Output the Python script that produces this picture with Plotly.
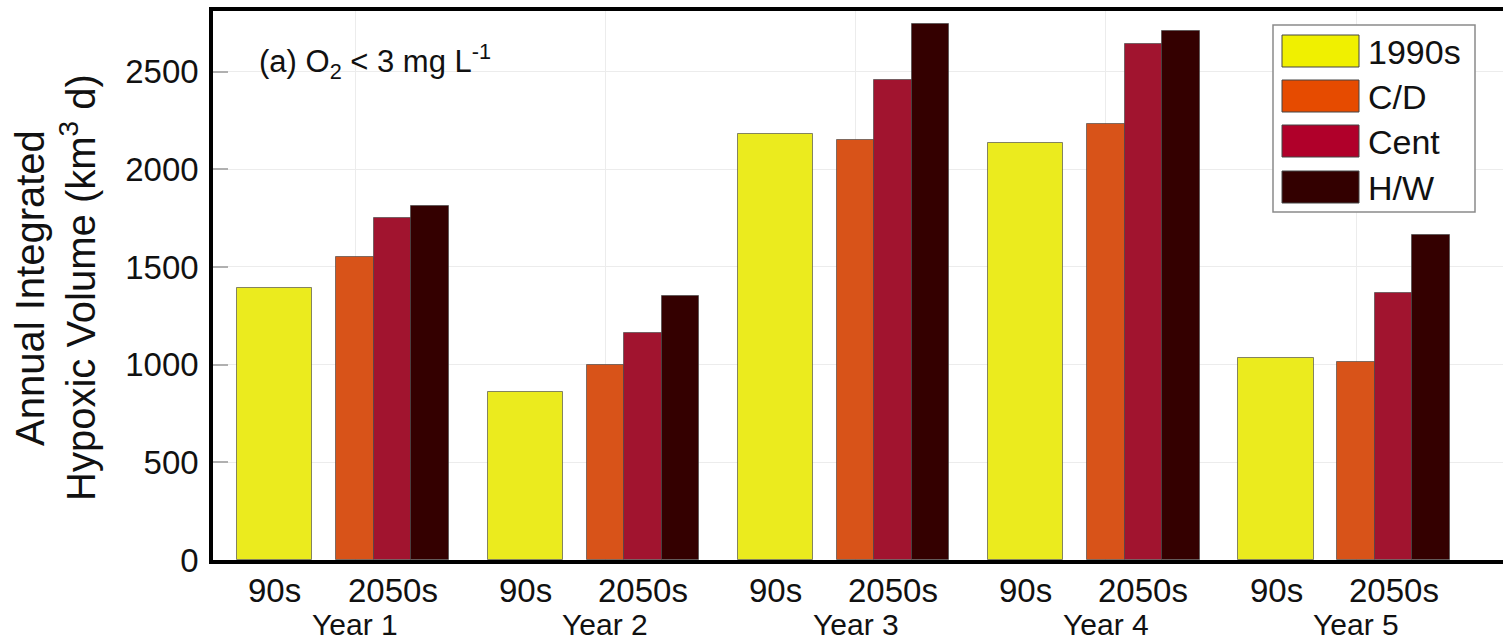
import plotly.graph_objects as go

# Annual integrated hypoxic volume (km^3 d), O2 < 3 mg/L
years = ["Year 1", "Year 2", "Year 3", "Year 4", "Year 5"]
period_labels = ["90s", "2050s"]
series_names = ["1990s", "C/D", "Cent", "H/W"]

v_1990s = [1394, 862, 2180, 2132, 1036]
v_cd = [1553, 998, 2152, 2232, 1014]
v_cent = [1748, 1161, 2458, 2640, 1369]
v_hw = [1814, 1352, 2744, 2710, 1664]

bar_colors = ["#EBEB1E", "#D85319", "#A1142F", "#340000"]
key_colors = ["#F0F000", "#E64B00", "#B0002A", "#330000"]

y_ticks = [0, 500, 1000, 1500, 2000, 2500]

FONT = "Liberation Sans, Arial, Helvetica, sans-serif"

# plot-area geometry in pixels (for annotations/legend placement)
W, H = 1503, 642
L, R, T, B = 213, 1503, 11, 560
PW, PH = R - L, B - T


def px(x):
    return (x - L) / PW


def py(y):
    return (B - y) / PH


centers = list(range(1, len(years) + 1))
offsets = [-0.32, 0.0, 0.15, 0.30]
widths = [0.30, 0.15, 0.15, 0.15]
values = [v_1990s, v_cd, v_cent, v_hw]

fig = go.Figure()
for name, vals, col, off, w in zip(series_names, values, bar_colors, offsets, widths):
    fig.add_trace(go.Bar(
        x=[c + off for c in centers],
        y=vals,
        width=w,
        name=name,
        marker=dict(color=col, line=dict(color="rgba(70,70,70,0.65)", width=1)),
        showlegend=False,
        hovertemplate=name + ": %{y}<extra></extra>",
    ))

annotations = []
# period labels under each group and year labels below them
for c in centers:
    annotations.append(dict(x=c - 0.32, y=py(590), xref="x", yref="paper",
                            text=period_labels[0], showarrow=False,
                            font=dict(size=33, color="#111", family=FONT),
                            xanchor="center", yanchor="middle"))
    annotations.append(dict(x=c + 0.15, y=py(590), xref="x", yref="paper",
                            text=period_labels[1], showarrow=False,
                            font=dict(size=33, color="#111", family=FONT),
                            xanchor="center", yanchor="middle"))
for c, yl in zip(centers, years):
    annotations.append(dict(x=c, y=py(624), xref="x", yref="paper",
                            text=yl, showarrow=False,
                            font=dict(size=30, color="#111", family=FONT),
                            xanchor="center", yanchor="middle"))

# y-axis title (two lines)
annotations.append(dict(x=px(30), y=py(288), xref="paper", yref="paper",
                        text="Annual Integrated", textangle=-90, showarrow=False,
                        font=dict(size=40, color="#111", family=FONT),
                        xanchor="center", yanchor="middle"))
annotations.append(dict(x=px(78), y=py(288), xref="paper", yref="paper",
                        text="Hypoxic Volume (km<sup>3</sup> d)", textangle=-90,
                        showarrow=False,
                        font=dict(size=40, color="#111", family=FONT),
                        xanchor="center", yanchor="middle"))

# panel label
annotations.append(dict(x=px(257), y=py(62), xref="paper", yref="paper",
                        text="(a) O<sub>2</sub> &lt; 3 mg L<sup>-1</sup>",
                        showarrow=False,
                        font=dict(size=31, color="#111", family=FONT),
                        xanchor="left", yanchor="middle"))

# legend box
shapes = [dict(type="rect", xref="paper", yref="paper",
               x0=px(1273), x1=px(1475), y0=py(212), y1=py(25),
               line=dict(color="#8a8a8a", width=1.5), fillcolor="white", layer="above")]
row_tops = [35, 80, 125, 171]
for name, col, top in zip(series_names, key_colors, row_tops):
    shapes.append(dict(type="rect", xref="paper", yref="paper",
                       x0=px(1282), x1=px(1359), y0=py(top + 32), y1=py(top),
                       line=dict(color="#444", width=1), fillcolor=col, layer="above"))
    annotations.append(dict(x=px(1366), y=py(top + 17), xref="paper", yref="paper",
                            text=name, showarrow=False,
                            font=dict(size=34, color="#111", family=FONT),
                            xanchor="left", yanchor="middle"))

fig.update_layout(
    width=W, height=H,
    margin=dict(l=L, r=W - R, t=T, b=H - B),
    paper_bgcolor="white", plot_bgcolor="white",
    barmode="overlay", bargap=0,
    font=dict(family=FONT, color="#111"),
    annotations=annotations, shapes=shapes,
    xaxis=dict(range=[0.4326, 5.587], tickvals=centers, showticklabels=False,
               showgrid=True, gridcolor="#ececec", gridwidth=1.2,
               showline=True, linecolor="black", linewidth=3.5, mirror=True,
               ticks="", zeroline=False, fixedrange=True),
    yaxis=dict(range=[0, 2810], tickvals=y_ticks, ticktext=[str(t) for t in y_ticks],
               showgrid=True, gridcolor="#ececec", gridwidth=1.2,
               showline=True, linecolor="black", linewidth=3.5, mirror=False,
               ticks="inside", ticklen=15, tickwidth=1.5, tickcolor="#b0b0b0",
               tickfont=dict(size=33, color="#111", family=FONT),
               ticklabelstandoff=4, zeroline=False, fixedrange=True),
)

fig.write_html("out.html")
